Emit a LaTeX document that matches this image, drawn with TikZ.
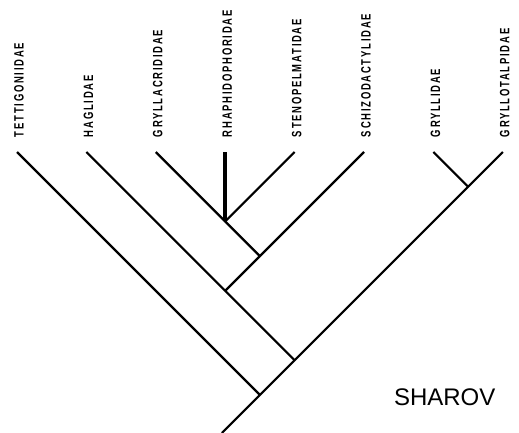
\documentclass[tikz,border=0pt]{standalone}
\usepackage{fontspec}
\setmainfont{Liberation Sans}
\newfontfamily\taxonfont[FakeStretch=0.7, LetterSpace=13]{Liberation Sans}
\usetikzlibrary{positioning}
\tikzset{
  every picture/.style={x=1pt, y=-1pt, line width=2pt},
  taxon/.style={rotate=90, anchor=west, inner sep=0pt, font=\taxonfont\bfseries\fontsize{13.5}{13.5}\selectfont},
  branch/.style={draw=black, line width=2.2pt},
  stem/.style={draw=black, line width=4pt},
  author/.style={font=\fontsize{24}{24}\selectfont, inner sep=0pt},
}

\begin{document}
\begin{tikzpicture}
  \useasboundingbox (0,0) rectangle (519,433);
  % taxa along the top
  \node[taxon] (tet) at (19,138)    {TETTIGONIIDAE};
  \node[taxon] (hag) at (88.4,138)  {HAGLIDAE};
  \node[taxon] (gla) at (157.8,138) {GRYLLACRIDIDAE};
  \node[taxon] (rha) at (227.2,138) {RHAPHIDOPHORIDAE};
  \node[taxon] (ste) at (296.6,138) {STENOPELMATIDAE};
  \node[taxon] (sch) at (366,138)   {SCHIZODACTYLIDAE};
  \node[taxon] (gri) at (435.4,138) {GRYLLIDAE};
  \node[taxon] (gtp) at (504.8,138) {GRYLLOTALPIDAE};
  % branch tips
  \coordinate (tip1) at (17,152);
  \coordinate (tip2) at (86.4,152);
  \coordinate (tip3) at (155.8,152);
  \coordinate (tip4) at (225.2,152);
  \coordinate (tip5) at (294.6,152);
  \coordinate (tip6) at (364,152);
  \coordinate (tip7) at (433.4,152);
  \coordinate (tip8) at (502.8,152);
  % junctions
  \coordinate (rs)   at (225.2,221.4);
  \coordinate (rss)  at (259.9,256.1);
  \coordinate (hrss) at (225.2,290.8);
  \coordinate (grl)  at (468.1,186.7);
  \coordinate (ens)  at (294.6,360.2);
  \coordinate (root) at (259.9,394.9);
  \coordinate (base) at (221.8,433);
  \draw[branch] (tip1) -- (root);
  \draw[branch] (tip2) -- (hrss) -- (ens);
  \draw[branch] (tip3) -- (rs) -- (rss);
  \draw[branch] (tip5) -- (rs);
  \draw[branch] (tip6) -- (rss) -- (hrss);
  \draw[branch] (tip7) -- (grl);
  \draw[branch] (tip8) -- (grl) -- (ens) -- (root) -- (base);
  \draw[stem] (tip4) -- (rs);
  \node[author, anchor=south west] (sha) at (393,407) {SHAROV};
\end{tikzpicture}
\end{document}
